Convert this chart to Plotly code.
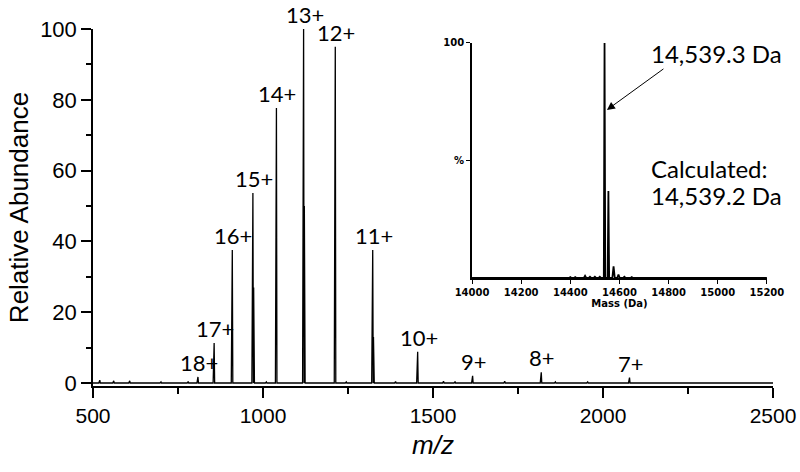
import plotly.graph_objects as go

# ---- main spectrum data ----
charge_states = [18, 17, 16, 15, 14, 13, 12, 11, 10, 9, 8, 7]
peak_mz = [808.7, 856.3, 909.7, 970.3, 1039.5, 1119.4, 1212.6, 1322.7, 1454.9, 1616.5, 1818.4, 2078.0]
peak_height = [1.7, 11.3, 37.6, 53.7, 77.7, 100.0, 95.0, 37.6, 8.8, 2.0, 3.0, 1.5]
adduct_height = [0, 0, 0, 27.0, 0, 50.0, 0, 13.0, 0, 0, 0, 0]

noise_mz = [520, 561, 608, 700, 780, 1010, 1245, 1390, 1531, 1565, 1711, 1860, 1955, 2180, 2300, 2420]
noise_height = [0.8, 0.6, 0.6, 0.3, 0.4, 0.3, 0.3, 0.4, 0.5, 0.4, 0.5, 0.3, 0.3, 0.2, 0.2, 0.2]

# ---- inset (deconvolved) data ----
inset_mass = [14220, 14260, 14300, 14340, 14400, 14420, 14460, 14480, 14500, 14520,
              14539.3, 14555, 14576, 14596, 14620, 14650, 14700]
inset_height = [0.3, 0.3, 0.3, 0.3, 0.4, 0.4, 0.9, 0.5, 0.5, 0.5,
                100.0, 37.0, 5.0, 1.5, 0.5, 0.4, 0.3]

# build the profile line for the main spectrum
pts = [(m, h, a, 3.0) for m, h, a in zip(peak_mz, peak_height, adduct_height)]
pts += [(m, h, 0, 3.0) for m, h in zip(noise_mz, noise_height)]
pts.sort()
xs, ys = [500], [0]
for c, h, a, w in pts:
    xs += [c - w, c, c + 1.5]
    ys += [0, h, 0]
    if a > 0:
        xs += [c + 2.2, c + 4.5]
        ys += [a, 0]
xs.append(2500)
ys.append(0)

# inset profile
ix, iy = [14000], [0]
for m, h in zip(inset_mass, inset_height):
    w = 5.0 if h < 20 else 3.0
    ix += [m - w, m, m + w]
    iy += [0, h, 0]
ix.append(15200)
iy.append(0)

fig = go.Figure()
fig.add_trace(go.Scatter(x=xs, y=ys, mode="lines", line=dict(color="black", width=1.3),
                         showlegend=False, hoverinfo="skip"))
fig.add_trace(go.Scatter(x=ix, y=iy, mode="lines", line=dict(color="black", width=1.8),
                         xaxis="x2", yaxis="y2", showlegend=False, hoverinfo="skip"))

annotations = []
for z, c, h in zip(charge_states, peak_mz, peak_height):
    annotations.append(dict(x=c, y=h, xref="x", yref="y", text=f"{z}+", showarrow=False,
                            yanchor="bottom", xanchor="center", xshift=1, yshift=-1,
                            font=dict(family="Lato", size=22, color="black")))

# arrow pointing to the main deconvolved peak
annotations.append(dict(x=14549, y=71.5, xref="x2", yref="y2", ax=14785, ay=89.4,
                        axref="x2", ayref="y2", text="", showarrow=True, arrowhead=2,
                        arrowsize=1.6, arrowwidth=1, arrowcolor="black"))
txt_font = dict(family="Lato", size=24, color="black")
annotations.append(dict(x=0.8176, y=0.930, xref="paper", yref="paper", text="14,539.3 Da",
                        showarrow=False, xanchor="left", yanchor="middle", font=txt_font))
annotations.append(dict(x=0.8176, y=0.6106, xref="paper", yref="paper", text="Calculated:",
                        showarrow=False, xanchor="left", yanchor="middle", font=txt_font))
annotations.append(dict(x=0.8176, y=0.535, xref="paper", yref="paper", text="14,539.2 Da",
                        showarrow=False, xanchor="left", yanchor="middle", font=txt_font))

axis_font = dict(family="Liberation Sans, Arial", size=21, color="black")
inset_font = dict(family="DejaVu Sans", size=10, color="black", weight="bold")
fig.update_layout(
    width=800, height=472,
    margin=dict(l=93, r=27, t=29, b=86, autoexpand=False),
    paper_bgcolor="white", plot_bgcolor="white",
    showlegend=False,
    annotations=annotations,
    xaxis=dict(range=[500, 2500], tickvals=[500, 1000, 1500, 2000, 2500], automargin=False,
               ticks="outside", ticklen=10, tickwidth=1.5, tickcolor="black",
               minor=dict(tickvals=[750, 1250, 1750, 2250], ticks="outside", ticklen=6,
                          tickwidth=1.5, tickcolor="black"),
               showline=True, linecolor="black", linewidth=1.5, showgrid=False, zeroline=False,
               tickfont=axis_font,
               title=dict(text="<i>m/z</i>", font=dict(family="Liberation Sans, Arial", size=26, color="black"),
                          standoff=10)),
    yaxis=dict(range=[-0.85, 100], tickvals=[0, 20, 40, 60, 80, 100], automargin=False,
               ticks="outside", ticklen=10, tickwidth=1.5, tickcolor="black",
               minor=dict(tickvals=[10, 30, 50, 70, 90], ticks="outside", ticklen=5,
                          tickwidth=1.5, tickcolor="black"),
               showline=True, linecolor="black", linewidth=1.5, showgrid=False, zeroline=False,
               tickfont=dict(family="Liberation Sans, Arial", size=22, color="black"),
               title=dict(text="Relative Abundance", font=dict(family="Liberation Sans, Arial", size=26, color="black"),
                          standoff=4)),
    xaxis2=dict(domain=[0.5574, 0.991], anchor="y2", range=[14000, 15200], automargin=False,
                tickvals=[14000, 14200, 14400, 14600, 14800, 15000, 15200], tickformat="d",
                ticks="outside", ticklen=4, tickwidth=1, tickcolor="black",
                showline=True, linecolor="black", linewidth=1.8, showgrid=False, zeroline=False,
                tickfont=inset_font,
                title=dict(text="Mass (Da)", font=inset_font, standoff=3)),
    yaxis2=dict(domain=[0.3025, 0.961], anchor="x2", range=[0, 100], automargin=False,
                tickvals=[50, 100], ticktext=["%", "100"],
                ticks="outside", ticklen=4, tickwidth=1, tickcolor="black",
                showline=True, linecolor="black", linewidth=1.8, showgrid=False, zeroline=False,
                tickfont=inset_font),
)

fig.write_html("out.html", config={"displayModeBar": False},
               post_script="document.body.style.margin='0px';")
